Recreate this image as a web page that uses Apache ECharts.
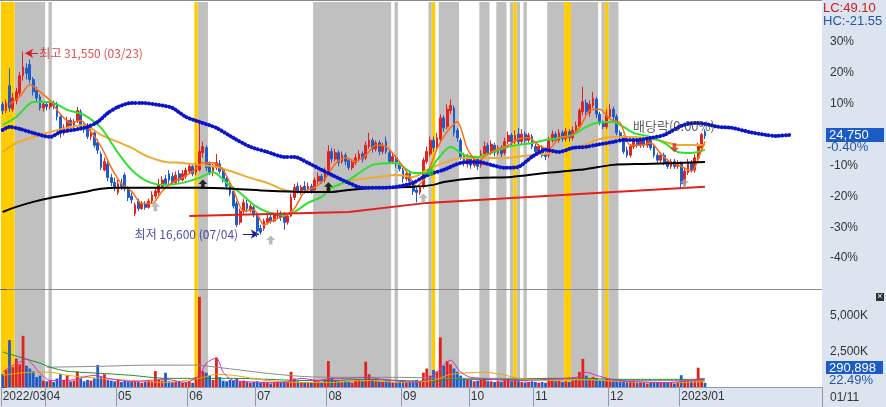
<!DOCTYPE html>
<html><head><meta charset="utf-8">
<script src="https://cdn.jsdelivr.net/npm/echarts/dist/echarts.min.js"></script>
<style>
html,body{margin:0;padding:0;background:#fff;}
#wrap{position:relative;width:886px;height:407px;overflow:hidden;}
.bg{position:absolute;background:#dbe4ef;}
#c{position:absolute;left:0;top:0;width:886px;height:407px;}
</style>
</head><body>
<div id="wrap">
<div class="bg" style="left:822px;top:0;width:64px;height:407px"></div>
<div class="bg" style="left:0;top:388px;width:886px;height:19px"></div>
<div id="c"></div>
</div>
<script>
// ---------------- data ----------------
const BASE = 24850;            // reference price for the % scale
const N = 242;                 // slots on the time axis (208 trading days + future space)
const monthTickIdx = [0,13,34,55,75,96,118,138,157,179,200];
const monthTickLabels = ['2022/03','04','05','06','07','08','09','10','11','12','2023/01'];

const openP = [
 27300,26800,28800,26900,27600,28200,29600,30200,30500,29300,28400,27900,27000,
 27300,27100,27400,27300,26300,25000,25200,26000,25600,26000,26700,25500,25600,24700,25000,24200,23300,22000,22500,21400,21000,
 20200,20900,21600,20500,19900,18500,19500,18900,19300,19000,19500,19900,20200,20700,21300,21700,21500,21000,21700,21200,21500,
 21900,22300,21800,22000,23400,23800,22500,21800,22200,22500,22000,21300,20800,20300,19300,17800,18700,19300,18800,19000,
 18300,17300,17300,17800,18200,17900,18300,18500,18300,17800,18300,19800,20700,20200,20700,20400,20700,20400,21100,21500,21200,
 22000,23500,22900,23400,22700,23200,22800,22200,22600,22900,23300,23000,23900,24400,23700,24200,23500,24300,23400,22700,23000,22500,
 22000,21300,21700,21000,20400,20200,20700,22700,23300,24400,23800,24500,26200,25500,26800,27000,25200,24400,23100,22500,
 23000,22400,22900,22400,23300,24000,23400,24000,23400,23800,23400,24300,24800,24300,24900,24300,24900,24400,24700,
 23900,23500,23800,23300,23200,24400,24900,24400,25000,24500,25100,24600,25100,25500,26700,27400,26600,27200,27700,26500,25800,25500,
 26300,26900,26300,25000,24600,23600,23200,23900,24400,24000,24500,24000,24400,23900,23200,22800,23200,22700,22300,22700,22300,
 22500,20900,21800,22600,22000,23000,23800,25100];
const closeP = [
 26800,27400,27000,27800,28300,29600,30300,29800,29300,28300,27800,27000,27300,
 27100,27400,27200,26300,25000,25400,26000,25600,25900,26800,25500,25300,24700,25000,24000,23600,22200,22700,21400,21000,20600,
 20900,20700,20500,19800,19600,19200,18900,19300,19000,19500,20000,20300,20800,21200,20900,21200,21000,21600,21200,21700,22000,
 22300,21700,22400,23500,23900,22200,21800,22300,22600,21900,21300,20700,20100,19100,17600,18700,19400,18900,19100,18400,
 17100,17000,17900,18100,17900,18400,18500,18200,17800,18300,19800,20600,20300,20600,20400,20700,20300,21200,21500,21100,21900,
 23500,22900,23400,22600,23200,22700,22200,22600,23000,23300,22900,24000,24400,23700,24200,23500,24000,23500,22700,23100,22500,22100,
 21300,21700,21100,20300,20200,20600,22800,23500,24400,23800,24600,26200,25400,26900,27200,25000,24600,23000,22600,23100,
 22400,22900,22300,23300,23900,23400,24100,23400,23800,23300,24300,24800,24300,24800,24300,24900,24400,24800,23900,
 23500,23900,23200,23100,24500,24900,24400,25000,24500,25100,24600,25200,25600,26800,27500,26700,27300,27800,26500,25800,25500,26400,
 26900,26300,25000,24600,23500,23200,23900,24400,24000,24500,24000,24400,23800,23200,22800,23200,22600,22300,22700,22300,22600,
 20900,21900,22600,22000,23000,23900,24850,24750];
const lowP = [
 26500,26600,26700,26700,27300,28000,29200,29300,29000,28000,27500,26800,26700,
 26800,26900,26900,26000,24600,24800,25000,25300,25400,25800,25300,25000,24500,24400,23800,23300,22000,21900,21100,20700,20300,
 20000,20400,20300,19500,19300,18300,18700,18800,18800,18900,19300,19700,20000,20500,20700,20900,20800,20900,21000,21100,21300,
 21700,21500,21600,21900,23000,21900,21600,21500,22000,21700,21000,20400,19900,18900,17400,17600,18500,18600,18600,18200,
 16600,16800,17100,17600,17700,17800,18100,17900,17200,17600,18200,19600,20100,20000,20100,20200,20100,20200,20900,20900,21000,
 21800,22600,22700,22300,22500,22400,22000,22000,22400,22700,22600,22800,23700,23400,23500,23200,23300,23300,22500,22500,22200,21900,
 21000,21100,20900,20000,19400,20000,20500,22500,23100,23500,23600,24300,25100,25300,26500,24700,24300,22800,22300,22200,
 22100,22200,22000,22200,23100,23200,23200,23100,23200,23000,23200,24100,24000,24100,24100,24100,24200,24200,23700,
 23300,23300,23000,22800,23000,24200,24200,24200,24300,24300,24300,24400,24900,25300,26400,26400,26300,27000,26200,25600,25300,25300,
 26100,26000,24800,24400,23300,23000,23000,23700,23800,23800,23800,23800,23600,23000,22600,22600,22400,22100,22100,22100,22100,
 20600,20700,21600,21800,21800,22800,23600,24500];
const highP = [
 27500,27700,30200,28200,28600,29900,31550,30600,30900,29500,28700,28100,27500,
 27500,27600,27600,27500,26500,25700,26300,26200,26100,27100,26900,25800,25800,25300,25200,24500,23500,23000,22700,21700,21400,
 21200,21300,21800,20700,20200,19400,19700,19500,19500,19700,20300,20500,21300,21500,21600,22000,21800,21900,22000,22000,22200,
 22500,22500,22600,25800,24300,24000,22700,22500,23300,22800,22200,21500,21000,20500,19500,18900,19700,19600,19300,19200,
 18400,17600,18100,18400,18400,18600,18800,18700,18600,18500,20100,20900,21000,20800,21100,21000,20900,21400,21800,21700,22200,
 24000,23800,23700,23600,23500,23400,23000,22900,23300,23600,23500,24300,25000,24600,24400,24400,24200,24700,23600,23300,23200,22700,
 22200,21900,21900,21200,20600,20800,23000,23900,24700,24700,25000,26500,26400,27300,27700,27200,25400,24600,23400,23300,
 23200,23100,23100,23600,24300,24200,24400,24200,24000,24000,24600,25100,25000,25200,25400,25300,25100,25000,24900,
 24100,24100,24000,23500,24700,25200,25100,25300,25200,25400,25300,25500,25900,27000,28700,27700,27600,28300,27900,26700,26000,26900,
 27300,27100,26500,25200,24800,23900,24100,24600,24600,24700,24700,24600,24600,24100,23400,23400,23400,22900,22900,22900,22800,
 22700,22200,22900,22800,23300,24200,25000,25300];
// volume, thousands of shares
const volK = [
 900,1200,3300,1400,2000,1600,3600,1500,1300,1100,700,800,450,
 400,450,350,600,900,500,830,400,450,1100,600,400,500,450,600,1550,700,900,500,450,400,
 500,350,450,400,350,400,350,300,350,450,400,1120,500,450,1000,400,350,400,350,300,350,
 400,300,700,6350,1100,1000,800,500,2070,700,450,400,500,450,600,400,450,350,300,350,
 400,300,350,300,250,300,350,300,400,350,1070,600,400,350,300,350,300,450,400,350,500,
 1830,600,500,400,350,400,350,300,450,500,400,1780,900,500,450,400,350,450,400,350,300,400,
 450,350,400,450,500,400,1000,1300,800,1200,1100,3500,1500,1830,1600,1300,1070,800,600,500,
 500,400,450,500,600,400,400,350,400,350,500,600,400,450,400,350,300,350,400,
 350,300,350,300,500,450,400,450,350,400,350,450,500,1070,1980,800,600,700,600,500,450,600,
 500,400,450,400,450,350,400,350,300,350,300,250,300,350,300,350,300,350,300,250,300,
 830,500,450,400,500,1360,600,291];

// moving-average lines, [day index, price]
const ma5 = [[2,27300],[5,27900],[8,28900],[11,28300],[14,27600],[17,26500],[20,25800],[23,26000],[26,25100],[29,23900],[32,22200],[35,20900],[38,20300],[41,19300],[44,19300],[47,20300],[50,21000],[53,21400],[56,21900],[59,22600],[62,22600],[65,22000],[68,20400],[71,18700],[74,18800],[77,17600],[80,18000],[83,18300],[86,18900],[89,20300],[92,20600],[95,21300],[98,22500],[101,23000],[104,22700],[107,23200],[110,24000],[113,23900],[116,23000],[119,21900],[122,20700],[125,21600],[128,23700],[131,25100],[134,25900],[137,23700],[140,22700],[143,23300],[146,23700],[149,24000],[152,24500],[155,24600],[158,24000],[161,23700],[164,24600],[167,24700],[170,25400],[173,26800],[176,26900],[179,26100],[182,25800],[185,24000],[188,24000],[191,24200],[194,23300],[197,22600],[200,22300],[203,21900],[206,23600],[207,24300]];
const ma20 = [[0,25640],[4,26280],[9,27490],[14,27490],[19,26850],[24,26440],[29,25400],[34,23380],[38,22015],[43,21050],[48,20810],[53,20970],[58,21370],[62,21850],[66,20970],[70,20160],[74,19200],[78,18630],[83,18390],[86,18630],[90,19360],[94,19840],[97,20570],[102,21210],[109,22420],[116,22580],[121,21770],[125,21770],[128,22820],[132,23870],[136,23220],[140,23060],[144,23380],[148,23790],[152,24030],[156,24190],[160,24430],[164,24590],[168,24830],[172,25480],[175,25800],[180,25880],[183,25480],[186,24990],[191,24670],[195,24190],[199,23460],[203,23380],[207,23630]];
const ma60 = [[0,23460],[4,24190],[9,24670],[14,25070],[19,25400],[24,25640],[29,24830],[34,24270],[38,23790],[43,23060],[48,22660],[53,22580],[58,22420],[63,22260],[68,21850],[73,21370],[78,20970],[83,20400],[88,20240],[93,20240],[97,20570],[102,21130],[111,21450],[116,21610],[121,21450],[125,22010],[130,22580],[135,22980],[148,22980],[156,23220],[162,23380],[170,23870],[175,24430],[180,24670],[186,24670],[193,24430],[199,24030],[207,24030]];
const ma120 = [[0,18630],[4,19040],[9,19440],[14,19760],[19,20000],[24,20240],[29,20490],[34,20570],[58,20570],[68,20490],[78,20330],[88,20240],[97,20240],[102,20400],[111,20570],[121,20650],[127,20810],[130,21050],[140,21370],[150,21450],[160,21770],[170,22020],[180,22420],[189,22500],[199,22580],[207,22660]];
const ma240 = [[55,18310],[102,18630],[125,19360],[150,19760],[175,20160],[207,20650]];
const leadLine = [[0,25240],[2,25480],[5,25320],[9,24990],[14,24670],[17,25070],[21,25240],[25,25480],[28,25880],[31,26600],[34,27090],[38,27410],[41,27410],[46,27250],[50,27010],[54,26280],[58,25880],[63,25400],[68,24590],[73,23870],[78,23460],[83,23060],[86,23060],[90,22580],[94,22020],[97,21610],[102,20970],[106,20570],[111,20570],[116,20650],[121,20970],[124,21450],[127,21770],[130,22020],[135,22580],[140,22660],[144,22420],[148,22180],[152,22260],[156,23060],[160,23630],[164,23460],[168,23790],[172,23870],[175,24030],[180,24270],[183,24430],[187,24430],[191,24590],[195,24830],[200,25560],[204,25800],[207,25720],[211,25480],[215,25400],[220,25070],[225,24830],[228,24750],[232,24830]];
// volume moving averages [day index, K shares]
const vma5 = [[0,1040],[2,1390],[5,1750],[7,1960],[9,1540],[11,960],[14,460],[19,460],[27,820],[31,610],[38,390],[43,460],[48,540],[54,320],[58,820],[60,1680],[63,2040],[65,1040],[68,460],[83,320],[88,610],[93,460],[97,610],[102,610],[107,680],[112,540],[122,320],[127,820],[132,1890],[135,1040],[138,680],[152,460],[169,680],[172,1040],[175,820],[181,460],[196,320],[207,610]];
const vma20 = [[0,820],[4,960],[9,1040],[14,1040],[19,820],[29,610],[38,460],[48,320],[58,610],[63,890],[68,820],[78,460],[88,320],[97,320],[107,460],[117,320],[127,460],[132,890],[142,1040],[147,890],[152,610],[161,460],[171,540],[181,390],[191,320],[200,320],[207,390]];
const vma60 = [[0,2460],[5,2110],[11,1680],[14,1390],[19,1110],[29,960],[38,820],[48,610],[58,610],[68,610],[78,540],[88,460],[97,460],[107,540],[117,460],[127,390],[132,540],[142,540],[152,540],[161,610],[171,610],[181,540],[188,540],[207,540]];
const vma120 = [[13,1390],[29,1460],[43,1540],[57,1540],[63,1390],[68,1250],[78,960],[88,750],[97,680],[117,680],[132,610],[152,610],[176,460],[207,460]];

// signal bands [first day, last day]
const grayBands = [[4,12],[14,14],[58,60],[92,114],[116,116],[126,126],[129,134],[141,143],[146,148],[150,150],[152,152],[154,154],[161,165],[168,175],[177,177],[179,181]];
const yellowBands = [[0,3],[57,57],[127,127],[151,151],[166,167],[178,178]];

// signal arrows [day index, price]
const grayUp = [[45,19040],[79,16380],[124,19760],[201,20970]];
const blackUp = [[59,20890],[96,20650]];
const redDown = [[198,23790]];
const greenMark = [[126,21850]];

// ---------------- chart ----------------
const FONT = '"Noto Sans CJK KR","Liberation Sans",sans-serif';
const NUMF = '"Liberation Sans","DejaVu Sans",sans-serif';
const RED = '#e3231b', BLUE = '#1e5ccb';
const cats = Array.from({length: N}, (_, i) => String(i));
const candleData = openP.map((o, i) => [o, closeP[i], lowP[i], highP[i]]);
const volData = volK.map((v, i) => ({value: v, itemStyle: {color: closeP[i] >= openP[i] ? RED : BLUE}}));
const labelMap = {}; monthTickIdx.forEach((k, j) => labelMap[k] = monthTickLabels[j]);
const tickSet = new Set(monthTickIdx);
const shift = arr => arr.map(([i, v]) => [i + 0.5, v]);
const bandData = grayBands.map(([a, b]) => [{xAxis: a, itemStyle: {color: '#c0c0c0'}}, {xAxis: b + 1}])
  .concat(yellowBands.map(([a, b]) => [{xAxis: a, itemStyle: {color: '#ffcc00'}}, {xAxis: b + 1}]));

function line(data, color, width, xi, yi, extra) {
  return Object.assign({type: 'line', xAxisIndex: xi, yAxisIndex: yi, data: shift(data), showSymbol: false,
    smooth: 0.25, silent: true, z: 6, lineStyle: {color: color, width: width}}, extra || {});
}
const ARROW = 'path://M5 0 L10 5 L7 5 L7 10 L3 10 L3 5 L0 5 Z';
function marks(data, color, rot) {
  return {type: 'scatter', xAxisIndex: 2, yAxisIndex: 0, data: shift(data), symbol: ARROW, symbolSize: [9, 9],
    symbolRotate: rot || 0, itemStyle: {color: color}, z: 8, silent: true};
}

const chart = echarts.init(document.getElementById('c'), null, {renderer: 'canvas'});
chart.setOption({
  animation: false,
  backgroundColor: 'transparent',
  grid: [
    {left: 1, right: 64, top: 2, height: 287, outerBoundsMode: 'none'},
    {left: 1, right: 64, top: 290, height: 97, outerBoundsMode: 'none'}
  ],
  xAxis: [
    {type: 'category', gridIndex: 0, data: cats, boundaryGap: true, axisLine: {show: false}, axisTick: {show: false}, axisLabel: {show: false}, splitLine: {show: false}},
    {type: 'category', gridIndex: 1, data: cats, boundaryGap: true,
      axisLine: {show: true, lineStyle: {color: '#8e9aab', width: 1}},
      axisTick: {show: true, interval: i => tickSet.has(i), length: 19, lineStyle: {color: '#8e9aab'}},
      axisLabel: {interval: i => tickSet.has(i), formatter: (v, i) => labelMap[i] || '', align: 'left', margin: 4,
        color: '#333', fontSize: 12, fontFamily: NUMF},
      splitLine: {show: false}},
    {type: 'value', gridIndex: 0, min: 0, max: N, show: false},
    {type: 'value', gridIndex: 1, min: 0, max: N, show: false}
  ],
  yAxis: [
    {type: 'value', gridIndex: 0, position: 'right', min: 12425, max: 35536, interval: 2485, scale: false,
      axisLine: {show: true, lineStyle: {color: '#7d7d7d'}},
      axisTick: {show: true, length: 5, lineStyle: {color: '#555'}},
      minorTick: {show: true, splitNumber: 5, length: 3, lineStyle: {color: '#777'}},
      splitLine: {show: false},
      axisLabel: {margin: 8, color: '#333', fontSize: 12, fontFamily: NUMF, showMaxLabel: false,
        formatter: v => { const p = Math.round((v / BASE - 1) * 100); return (p === 0 || p <= -50 || p >= 40) ? '' : p + '%'; }}},
    {type: 'value', gridIndex: 1, position: 'right', min: 0, max: 6830, interval: 2500,
      axisLine: {show: true, lineStyle: {color: '#7d7d7d'}},
      axisTick: {show: true, length: 5, lineStyle: {color: '#555'}},
      minorTick: {show: true, splitNumber: 5, length: 3, lineStyle: {color: '#777'}},
      splitLine: {show: false},
      axisLabel: {margin: 8, color: '#333', fontSize: 12, fontFamily: NUMF, showMinLabel: false, showMaxLabel: false,
        formatter: v => (v === 0 || v > 5000) ? '' : v.toLocaleString('en-US') + 'K'}}
  ],
  series: [
    {type: 'line', xAxisIndex: 2, yAxisIndex: 0, data: [[0, 12425]], showSymbol: false, lineStyle: {opacity: 0}, z: 1, silent: true,
      markArea: {silent: true, data: bandData}},
    {type: 'line', xAxisIndex: 3, yAxisIndex: 1, data: [[0, 0]], showSymbol: false, lineStyle: {opacity: 0}, z: 1, silent: true,
      markArea: {silent: true, data: bandData}},
    {type: 'candlestick', xAxisIndex: 0, yAxisIndex: 0, data: candleData, barWidth: 2.3, z: 5, silent: true,
      itemStyle: {color: RED, color0: BLUE, borderColor: RED, borderColor0: BLUE, borderWidth: 1}},
    {type: 'bar', xAxisIndex: 1, yAxisIndex: 1, data: volData, barWidth: 2.8, z: 5, silent: true},
    line(ma60, '#f0aa30', 2, 2, 0),
    line(ma20, '#30e030', 2, 2, 0),
    line(ma5, '#ff6a10', 1.5, 2, 0),
    line(ma120, '#000000', 2, 2, 0),
    line(ma240, '#e4201c', 2, 2, 0, {smooth: false}),
    line(leadLine, '#0a14c8', 4, 2, 0, {z: 7, lineStyle: {color: '#0a14c8', width: 4, type: [0.01, 3.4], cap: 'round'}}),
    line(vma120, '#8a8a8a', 1, 3, 1),
    line(vma60, '#1f8f2a', 1, 3, 1),
    line(vma20, '#e8a800', 1, 3, 1),
    line(vma5, '#d42ac8', 1, 3, 1),
    marks(grayUp, '#a9a9a9'),
    marks(blackUp, '#000000'),
    marks(redDown, '#e3231b', 180),
    {type: 'scatter', xAxisIndex: 2, yAxisIndex: 0, data: shift(greenMark), symbol: 'circle', symbolSize: 7, itemStyle: {color: '#22cc22'}, z: 8, silent: true},
    {type: 'scatter', xAxisIndex: 2, yAxisIndex: 0, symbolSize: 0, z: 9, silent: true,
      label: {show: true, position: 'right', distance: 0, fontSize: 12, fontFamily: FONT},
      data: [
        {value: [11.3, 31400], label: {formatter: '최고 31,550 (03/23)', color: '#d42020'}},
        {value: [69.9, 16850], label: {position: 'left', formatter: '최저 16,600 (07/04)', color: '#1c1c8c'}},
        {value: [186.3, 25560], label: {formatter: '배당락(0.00%)', color: '#3a3a3a', fontSize: 13}}
      ],
      markLine: {silent: true, animation: false, symbolSize: [7, 8], label: {show: false},
        data: [
          [{coord: [7.1, 31400], symbol: 'arrow', lineStyle: {color: '#d42020', width: 1, type: 'solid'}}, {coord: [10.9, 31400], symbol: 'none'}],
          [{coord: [71.3, 16850], symbol: 'none', lineStyle: {color: '#1c1c9a', width: 1, type: 'solid'}}, {coord: [76.0, 16850], symbol: 'arrow'}]
        ]}}
  ],
  graphic: [
    {type: 'line', shape: {x1: 0, y1: 0.5, x2: 822, y2: 0.5}, style: {stroke: '#8a8a8a', lineWidth: 1}},
    {type: 'line', shape: {x1: 0, y1: 289.5, x2: 822, y2: 289.5}, style: {stroke: '#8a8a8a', lineWidth: 1}},
    {type: 'text', x: 823, y: 8, style: {text: 'LC:49.10', fill: '#c81e1e', font: '13px ' + NUMF, verticalAlign: 'middle', textVerticalAlign: 'middle'}},
    {type: 'text', x: 823, y: 21, style: {text: 'HC:-21.55', fill: '#2456a8', font: '13px ' + NUMF, verticalAlign: 'middle', textVerticalAlign: 'middle'}},
    {type: 'rect', shape: {x: 826, y: 128, width: 58, height: 14}, style: {fill: '#1b5bc7'}, z: 20},
    {type: 'text', x: 829, y: 135, z: 21, style: {text: '24,750', fill: '#ffffff', font: '13px ' + NUMF, verticalAlign: 'middle', textVerticalAlign: 'middle'}},
    {type: 'text', x: 827, y: 147, style: {text: '-0.40%', fill: '#2456a8', font: '13px ' + NUMF, verticalAlign: 'middle', textVerticalAlign: 'middle'}},
    {type: 'rect', shape: {x: 826, y: 361, width: 57, height: 13}, style: {fill: '#1b5bc7'}, z: 20},
    {type: 'text', x: 829, y: 368, z: 21, style: {text: '290,898', fill: '#ffffff', font: '13px ' + NUMF, verticalAlign: 'middle', textVerticalAlign: 'middle'}},
    {type: 'text', x: 829, y: 380, style: {text: '22.49%', fill: '#2456a8', font: '13px ' + NUMF, verticalAlign: 'middle', textVerticalAlign: 'middle'}},
    {type: 'rect', shape: {x: 876, y: 293, width: 8, height: 8}, style: {fill: '#333'}},
    {type: 'text', x: 880, y: 297, style: {text: '×', fill: '#fff', font: '9px ' + NUMF, align: 'center', textAlign: 'center', verticalAlign: 'middle', textVerticalAlign: 'middle'}},
    {type: 'line', shape: {x1: 822.5, y1: 388, x2: 822.5, y2: 407}, style: {stroke: '#8e9aab', lineWidth: 1}},
    {type: 'text', x: 830, y: 398, style: {text: '01/11', fill: '#333', font: '12px ' + NUMF, verticalAlign: 'middle', textVerticalAlign: 'middle'}}
  ]
});
</script>
</body></html>
